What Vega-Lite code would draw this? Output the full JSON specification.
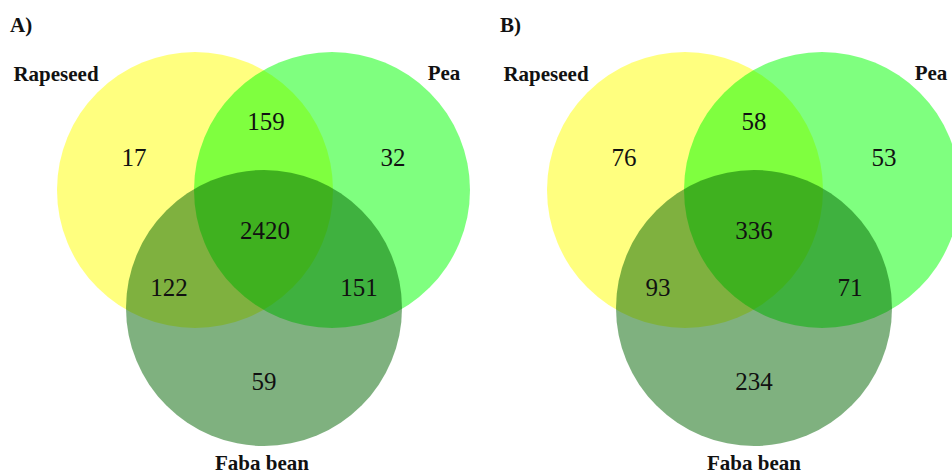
{
  "$schema": "https://vega.github.io/schema/vega-lite/v6.json",
  "padding": 0,
  "spacing": 18,
  "config": {"view": {"stroke": null}, "font": "Liberation Serif"},
  "datasets": {
    "circles": [
      {"panel": "A", "set": "Rapeseed", "cx": 195, "cy": 190},
      {"panel": "A", "set": "Pea", "cx": 332, "cy": 190},
      {"panel": "A", "set": "Faba bean", "cx": 264, "cy": 308},
      {"panel": "B", "set": "Rapeseed", "cx": 195, "cy": 190},
      {"panel": "B", "set": "Pea", "cx": 332, "cy": 190},
      {"panel": "B", "set": "Faba bean", "cx": 264, "cy": 308}
    ],
    "counts": [
      {"panel": "A", "region": "Rapeseed only", "count": 17, "x": 134, "y": 166},
      {"panel": "A", "region": "Rapeseed & Pea", "count": 159, "x": 266, "y": 130},
      {"panel": "A", "region": "Pea only", "count": 32, "x": 393, "y": 166},
      {"panel": "A", "region": "All three", "count": 2420, "x": 265, "y": 239},
      {"panel": "A", "region": "Rapeseed & Faba bean", "count": 122, "x": 169, "y": 296},
      {"panel": "A", "region": "Pea & Faba bean", "count": 151, "x": 359, "y": 296},
      {"panel": "A", "region": "Faba bean only", "count": 59, "x": 264, "y": 390},
      {"panel": "B", "region": "Rapeseed only", "count": 76, "x": 134, "y": 166},
      {"panel": "B", "region": "Rapeseed & Pea", "count": 58, "x": 264, "y": 130},
      {"panel": "B", "region": "Pea only", "count": 53, "x": 394, "y": 166},
      {"panel": "B", "region": "All three", "count": 336, "x": 264, "y": 239},
      {"panel": "B", "region": "Rapeseed & Faba bean", "count": 93, "x": 168, "y": 296},
      {"panel": "B", "region": "Pea & Faba bean", "count": 71, "x": 360, "y": 296},
      {"panel": "B", "region": "Faba bean only", "count": 234, "x": 264, "y": 390}
    ],
    "names": [
      {"panel": "A", "name": "Rapeseed", "x": 56, "y": 81},
      {"panel": "A", "name": "Pea", "x": 444, "y": 80},
      {"panel": "A", "name": "Faba bean", "x": 262, "y": 470},
      {"panel": "B", "name": "Rapeseed", "x": 56, "y": 81},
      {"panel": "B", "name": "Pea", "x": 441, "y": 80},
      {"panel": "B", "name": "Faba bean", "x": 264, "y": 470}
    ],
    "panels": [
      {"panel": "A", "label": "A)", "x": 10, "y": 32},
      {"panel": "B", "label": "B)", "x": 10, "y": 32}
    ]
  },
  "hconcat": [
    {
      "width": 472,
      "height": 475,
      "layer": [
        {
          "data": {"name": "circles"},
          "transform": [{"filter": "datum.panel === 'A'"}],
          "mark": {"type": "point", "shape": "circle", "filled": true, "opacity": 0.5, "size": 76176},
          "encoding": {
            "x": {"field": "cx", "type": "quantitative", "axis": null, "scale": {"domain": [0, 472], "nice": false, "zero": false}},
            "y": {"field": "cy", "type": "quantitative", "axis": null, "scale": {"domain": [0, 475], "nice": false, "zero": false, "reverse": true}},
            "color": {"field": "set", "type": "nominal", "legend": null, "scale": {"domain": ["Rapeseed", "Pea", "Faba bean"], "range": ["#ffff00", "#00ff00", "#006400"]}}
          }
        },
        {
          "data": {"name": "counts"},
          "transform": [{"filter": "datum.panel === 'A'"}],
          "mark": {"type": "text", "fontSize": 25, "align": "center", "baseline": "alphabetic", "color": "#111111"},
          "encoding": {
            "x": {"field": "x", "type": "quantitative"},
            "y": {"field": "y", "type": "quantitative"},
            "text": {"field": "count", "type": "quantitative"}
          }
        },
        {
          "data": {"name": "names"},
          "transform": [{"filter": "datum.panel === 'A'"}],
          "mark": {"type": "text", "fontSize": 21, "fontWeight": "bold", "align": "center", "baseline": "alphabetic", "color": "#111111"},
          "encoding": {
            "x": {"field": "x", "type": "quantitative"},
            "y": {"field": "y", "type": "quantitative"},
            "text": {"field": "name", "type": "nominal"}
          }
        },
        {
          "data": {"name": "panels"},
          "transform": [{"filter": "datum.panel === 'A'"}],
          "mark": {"type": "text", "fontSize": 21, "fontWeight": "bold", "align": "left", "baseline": "alphabetic", "color": "#111111"},
          "encoding": {
            "x": {"field": "x", "type": "quantitative"},
            "y": {"field": "y", "type": "quantitative"},
            "text": {"field": "label", "type": "nominal"}
          }
        }
      ]
    },
    {
      "width": 462,
      "height": 475,
      "layer": [
        {
          "data": {"name": "circles"},
          "transform": [{"filter": "datum.panel === 'B'"}],
          "mark": {"type": "point", "shape": "circle", "filled": true, "opacity": 0.5, "size": 76176, "clip": true},
          "encoding": {
            "x": {"field": "cx", "type": "quantitative", "axis": null, "scale": {"domain": [0, 462], "nice": false, "zero": false}},
            "y": {"field": "cy", "type": "quantitative", "axis": null, "scale": {"domain": [0, 475], "nice": false, "zero": false, "reverse": true}},
            "color": {"field": "set", "type": "nominal", "legend": null, "scale": {"domain": ["Rapeseed", "Pea", "Faba bean"], "range": ["#ffff00", "#00ff00", "#006400"]}}
          }
        },
        {
          "data": {"name": "counts"},
          "transform": [{"filter": "datum.panel === 'B'"}],
          "mark": {"type": "text", "fontSize": 25, "align": "center", "baseline": "alphabetic", "color": "#111111"},
          "encoding": {
            "x": {"field": "x", "type": "quantitative"},
            "y": {"field": "y", "type": "quantitative"},
            "text": {"field": "count", "type": "quantitative"}
          }
        },
        {
          "data": {"name": "names"},
          "transform": [{"filter": "datum.panel === 'B'"}],
          "mark": {"type": "text", "fontSize": 21, "fontWeight": "bold", "align": "center", "baseline": "alphabetic", "color": "#111111"},
          "encoding": {
            "x": {"field": "x", "type": "quantitative"},
            "y": {"field": "y", "type": "quantitative"},
            "text": {"field": "name", "type": "nominal"}
          }
        },
        {
          "data": {"name": "panels"},
          "transform": [{"filter": "datum.panel === 'B'"}],
          "mark": {"type": "text", "fontSize": 21, "fontWeight": "bold", "align": "left", "baseline": "alphabetic", "color": "#111111"},
          "encoding": {
            "x": {"field": "x", "type": "quantitative"},
            "y": {"field": "y", "type": "quantitative"},
            "text": {"field": "label", "type": "nominal"}
          }
        }
      ]
    }
  ]
}
